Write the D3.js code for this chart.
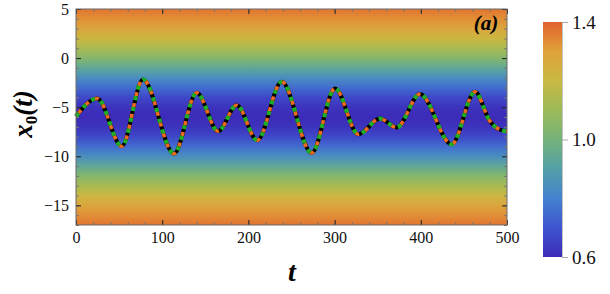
<!DOCTYPE html>
<html>
<head>
<meta charset="utf-8">
<script src="https://cdn.jsdelivr.net/npm/d3@7/dist/d3.min.js"></script>
<style>
	body { margin: 0; background: #fff; }
</style>
</head>
<body>
<svg id="chart" width="610" height="294"></svg>
<script>
// trajectory x0(t) (extrema and a few points between)
const tValues = [0, 24.7, 53, 77.7, 113.7, 140, 165, 186.4, 210.3, 238.6, 273.4, 300.5, 327.5, 352.7, 372, 399, 435.8, 462.9, 480, 492, 500];
const x0Values = [-5.92, -4.11, -8.98, -2.18, -9.73, -3.54, -7.45, -4.8, -8.37, -2.41, -9.66, -3.09, -7.76, -6.16, -7.07, -3.67, -8.78, -3.44, -6.4, -7.3, -7.45];

// background density profile along x (one value per unit of x)
const profileX = [-17, -16, -15, -14, -13, -12, -11, -10, -9, -8, -7, -6, -5, -4, -3, -2, -1, 0, 1, 2, 3, 4, 5];
const profileN = [1.37, 1.33, 1.28, 1.21, 1.13, 1.04, 0.94, 0.84, 0.75, 0.67, 0.62, 0.6, 0.62, 0.67, 0.75, 0.84, 0.94, 1.04, 1.13, 1.21, 1.28, 1.33, 1.37];

// colour map
const cmapValues = [0.6, 0.7, 0.8, 0.9, 1.0, 1.1, 1.2, 1.3, 1.4];
const cmapColors = ['#3c2bb8', '#3f55cf', '#4482cf', '#52a0a8', '#75b27a', '#9cbb58', '#c9b843', '#e0a23b', '#e2622c'];

const xTicks = [0, 100, 200, 300, 400, 500];
const yTicks = [5, 0, -5, -10, -15];
const cbarTicks = [0.6, 1.0, 1.4];

const SERIF = "'Liberation Serif', 'Times New Roman', serif";

const svg = d3.select('#chart');
const defs = svg.append('defs');

const x = d3.scaleLinear().domain([0, 500]).range([76, 507]);
const y = d3.scaleLinear().domain([-17, 5]).range([225, 9]);
const color = d3.scaleLinear().domain(cmapValues).range(cmapColors);
const cbar = d3.scaleLinear().domain([0.6, 1.4]).range([257, 22]);

// gradient stops need increasing offsets, so sort top -> bottom
function verticalGradient(id, y0, y1, stops) {
	const grad = defs
		.append('linearGradient')
		.attr('id', id)
		.attr('gradientUnits', 'userSpaceOnUse')
		.attr('x1', 0)
		.attr('x2', 0)
		.attr('y1', y0)
		.attr('y2', y1);
	grad.selectAll('stop')
		.data(stops.sort((a, b) => a.py - b.py))
		.join('stop')
		.attr('offset', (d) => (d.py - y0) / (y1 - y0))
		.attr('stop-color', (d) => d.c);
}

verticalGradient(
	'bg',
	y(5),
	y(-17),
	profileX.map((v, i) => ({ py: y(v), c: color(profileN[i]) }))
);
verticalGradient(
	'cbar',
	cbar(1.4),
	cbar(0.6),
	cmapValues.map((v, i) => ({ py: cbar(v), c: cmapColors[i] }))
);

svg.append('rect')
	.attr('x', x(0))
	.attr('y', y(5))
	.attr('width', x(500) - x(0))
	.attr('height', y(-17) - y(5))
	.attr('fill', 'url(#bg)');

// curves: black solid, then orange and green dashes on top
const line = d3
	.line()
	.x((d) => x(d[0]))
	.y((d) => y(d[1]))
	.curve(d3.curveMonotoneX);
const pts = tValues.map((t, i) => [t, x0Values[i]]);

svg.append('path')
	.attr('d', line(pts))
	.attr('fill', 'none')
	.attr('stroke', '#000')
	.attr('stroke-width', 4);
svg.append('path')
	.attr('d', line(pts))
	.attr('fill', 'none')
	.attr('stroke', '#ee6a1f')
	.attr('stroke-width', 3.6)
	.attr('stroke-dasharray', '4,7')
	.attr('stroke-dashoffset', -4);
svg.append('path')
	.attr('d', line(pts))
	.attr('fill', 'none')
	.attr('stroke', '#1fae28')
	.attr('stroke-width', 4.2)
	.attr('stroke-dasharray', '4,7');

// frame ticks (inside), minor then major
function frameAxis(axisFn, scale, transform, minor, major, labels) {
	svg.append('g')
		.attr('transform', transform)
		.call(axisFn(scale).tickValues(minor).tickSizeInner(-3).tickSizeOuter(0).tickFormat(''))
		.call((g) => g.select('.domain').remove())
		.call((g) => g.selectAll('line').attr('stroke', '#777'));
	const g = svg.append('g')
		.attr('transform', transform)
		.call(axisFn(scale).tickValues(major).tickSizeInner(-5).tickSizeOuter(0).tickPadding(labels ? 7 : 0)
			.tickFormat(labels ? d3.format('') : ''))
		.call((g) => g.select('.domain').remove())
		.call((g) => g.selectAll('line').attr('stroke', '#222'));
	g.attr('font-family', SERIF).attr('font-size', 16);
	g.selectAll('text').attr('fill', '#111');
}

const xMinor = d3.range(0, 501, 20);
const yMinor = d3.range(-17, 6, 1);
frameAxis(d3.axisBottom, x, `translate(0,${y(-17)})`, xMinor, xTicks, true);
frameAxis(d3.axisTop, x, `translate(0,${y(5)})`, xMinor, xTicks, false);
frameAxis(d3.axisLeft, y, `translate(${x(0)},0)`, yMinor, yTicks, true);
frameAxis(d3.axisRight, y, `translate(${x(500)},0)`, yMinor, yTicks, false);

svg.append('rect')
	.attr('x', x(0))
	.attr('y', y(5))
	.attr('width', x(500) - x(0))
	.attr('height', y(-17) - y(5))
	.attr('fill', 'none')
	.attr('stroke', '#6a6a6a')
	.attr('stroke-width', 1);

// panel tag and axis titles
svg.append('text')
	.attr('x', 486)
	.attr('y', 30)
	.attr('text-anchor', 'middle')
	.attr('font-family', SERIF)
	.attr('font-size', 21)
	.attr('font-style', 'italic')
	.attr('font-weight', 'bold')
	.text('(a)');

svg.append('text')
	.attr('x', 292)
	.attr('y', 281)
	.attr('text-anchor', 'middle')
	.attr('font-family', SERIF)
	.attr('font-size', 28)
	.attr('font-style', 'italic')
	.attr('font-weight', 'bold')
	.text('t');

const yTitle = svg.append('text')
	.attr('transform', 'translate(32,114) rotate(-90)')
	.attr('text-anchor', 'middle')
	.attr('font-family', SERIF)
	.attr('font-size', 27)
	.attr('font-style', 'italic')
	.attr('font-weight', 'bold');
yTitle.append('tspan').text('x');
yTitle.append('tspan').attr('font-size', 17).attr('font-style', 'normal').attr('dy', 5).text('0');
yTitle.append('tspan').attr('dy', -5).text('(t)');

// colour bar
svg.append('rect')
	.attr('x', 543)
	.attr('y', cbar(1.4))
	.attr('width', 19)
	.attr('height', cbar(0.6) - cbar(1.4))
	.attr('fill', 'url(#cbar)');

const cAxis = svg.append('g')
	.attr('transform', 'translate(562,0)')
	.call(d3.axisRight(cbar).tickValues(cbarTicks).tickSize(6).tickPadding(4).tickFormat(d3.format('.1f')));
cAxis.attr('font-family', SERIF).attr('font-size', 19);
cAxis.select('.domain').attr('stroke', '#c4c4c4');
cAxis.selectAll('line').attr('stroke', '#aaa');
cAxis.selectAll('text').attr('fill', '#111');
</script>
</body>
</html>
